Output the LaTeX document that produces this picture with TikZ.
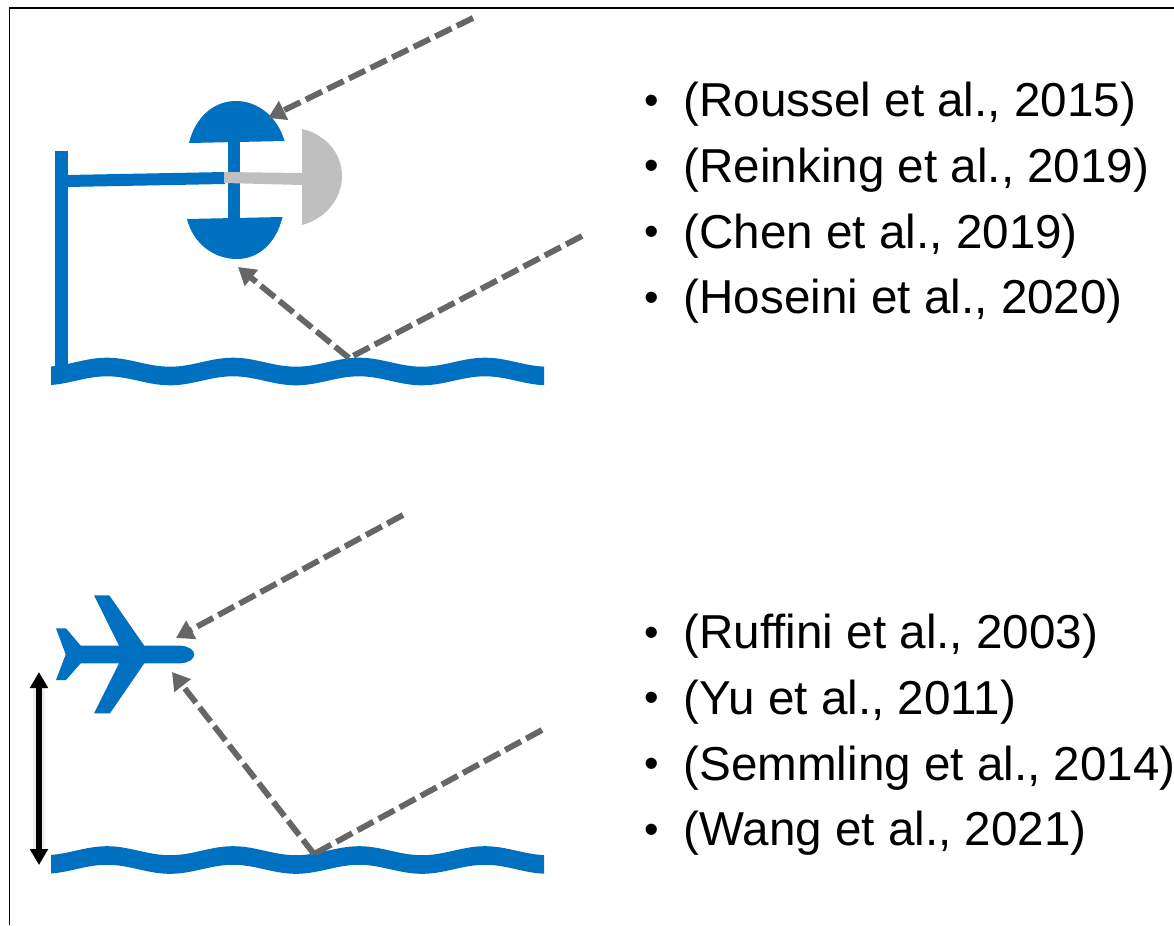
\documentclass[tikz,border=0pt]{standalone}
\usepackage{fontspec}
\setmainfont{Liberation Sans}
\usetikzlibrary{arrows.meta}
\definecolor{seablue}{HTML}{0070C0}
\definecolor{dishgrey}{HTML}{BFBFBF}
\definecolor{raygrey}{HTML}{666666}
\tikzset{
  x=0.75pt, y=-0.75pt,
  frameline/.style={draw=black, line width=1.1pt},
  bluepart/.style={fill=seablue, draw=none},
  greypart/.style={fill=dishgrey, draw=none},
  ray/.style={draw=raygrey, line width=4.4pt, dash pattern=on 13.5pt off 4.5pt,
    -{Triangle[length=13pt, width=15pt]}},
  rayplain/.style={draw=raygrey, line width=4.4pt, dash pattern=on 13.5pt off 4.5pt},
  height/.style={draw=black, line width=4.2pt,
    {Triangle[length=12pt, width=13pt]}-{Triangle[length=12pt, width=13pt]}},
  heightglow/.style={draw=black, opacity=0.07, line width=8.5pt, line cap=round},
  ref/.style={anchor=base west, inner sep=0pt, font=\fontsize{35.7pt}{38pt}\selectfont, text=black}
}
% sea surface: a band of constant vertical thickness with a sine-shaped centre line
\newcommand{\seaband}[1]{%
  \fill[bluepart]
    plot[domain=51:544, samples=90, smooth] (\x, {#1 - 9.3 - 4.5*cos((\x-107)/126*360)})
    -- plot[domain=544:51, samples=90, smooth] (\x, {#1 + 9.3 - 4.5*cos((\x-107)/126*360)})
    -- cycle;}
\newcommand{\refline}[3]{\node[ref] (#1) at (644,#2)
  {\makebox[29.5pt][l]{\raisebox{1.6pt}{\fontsize{31pt}{33pt}\selectfont •}}#3};}
\begin{document}
\begin{tikzpicture}
\useasboundingbox (0,0) rectangle (1174,925);

% outer frame, open at the bottom
\draw[frameline] (9.5,925) -- (9.5,8) -- (1174,8);

% upper scene: receiver on a mast above the sea
\seaband{371.5}
\fill[bluepart] (55,151) rectangle (68,372);
\fill[bluepart] (67,175) -- (225,172) -- (225,184) -- (67,187) -- cycle;
\fill[bluepart] (228,141) rectangle (240,219);
\fill[bluepart] (189,143) .. controls (195,118) and (213,101) .. (236,101)
  .. controls (259,101) and (278,118) .. (284.5,141) -- cycle;
\fill[bluepart] (187,219) .. controls (193,243) and (213,259) .. (237,259)
  .. controls (260,259) and (277,241) .. (282.5,217) -- cycle;
\fill[greypart] (224,172) -- (302,173) -- (302,185) -- (224,183) -- cycle;
\fill[greypart] (302,129) .. controls (325,134) and (342,153) .. (342,176)
  .. controls (342,199) and (325,219) .. (302,225) -- cycle;

\coordinate (directA) at (473,18);
\coordinate (dishTop) at (268,118);
\coordinate (skyA) at (582,236);
\coordinate (glintA) at (349,358);
\coordinate (dishBottom) at (238,267);
\draw[ray] (directA) -- (dishTop);
\draw[rayplain] (skyA) -- (glintA);
\draw[ray] (glintA) -- (dishBottom);

% lower scene: aircraft above the sea
\seaband{860}
\fill[bluepart] (56,628.3) -- (66,628.3) -- (80.7,645.7) -- (119,645.7) -- (94,595.3)
  -- (109.3,595.3) -- (144.3,645.7) -- (180,645.7)
  .. controls (188,645.7) and (194.3,650) .. (194.3,654.4)
  .. controls (194.3,659) and (188,663.3) .. (180,663.3)
  -- (144.3,663.3) -- (110,713.3) -- (94,713.3) -- (119,663.3) -- (80.7,663.3)
  -- (66,680) -- (56,680) -- (65.7,654.4) -- cycle;

\coordinate (directB) at (403,515);
\coordinate (planeFront) at (176,638);
\coordinate (skyB) at (542,730);
\coordinate (glintB) at (314,854);
\coordinate (planeBelow) at (172,672);
\coordinate (altTop) at (39,672);
\coordinate (altBottom) at (39,865);
\draw[ray] (directB) -- (planeFront);
\draw[rayplain] (skyB) -- (glintB);
\draw[ray] (glintB) -- (planeBelow);
\draw[heightglow] ([yshift=-10pt]altTop) -- ([yshift=10pt]altBottom);
\draw[height] (altTop) -- (altBottom);

% reference lists
\refline{rA}{116.5}{(Roussel et al., 2015)}
\refline{rB}{182}{(Reinking et al., 2019)}
\refline{rC}{248}{(Chen et al., 2019)}
\refline{rD}{313.5}{(Hoseini et al., 2020)}
\refline{rE}{648.5}{(Ruffini et al., 2003)}
\refline{rF}{714}{(Yu et al., 2011)}
\refline{rG}{780}{(Semmling et al., 2014)}
\refline{rH}{845.5}{(Wang et al., 2021)}
\end{tikzpicture}
\end{document}
